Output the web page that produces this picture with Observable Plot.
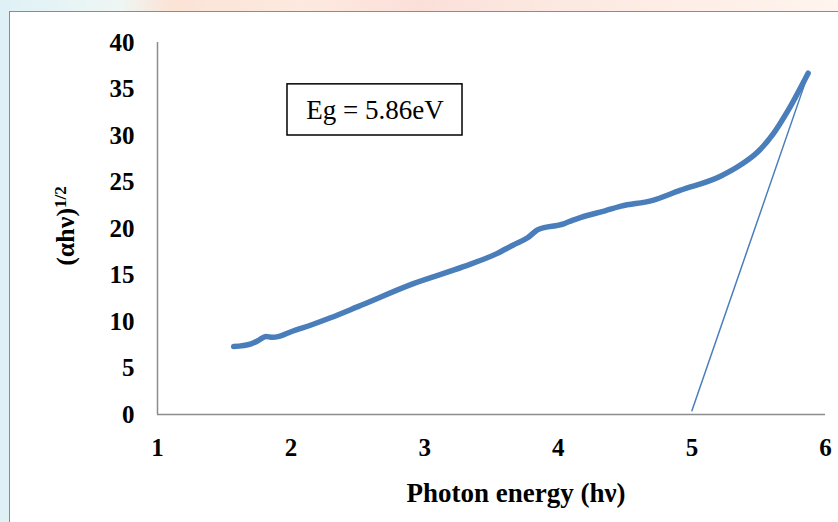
<!DOCTYPE html>
<html>
<head>
<meta charset="utf-8">
<script src="https://cdn.jsdelivr.net/npm/d3@7"></script>
<script src="https://cdn.jsdelivr.net/npm/@observablehq/plot@0.6"></script>
<style>
  html, body { margin: 0; padding: 0; width: 838px; height: 522px; overflow: hidden;
    background: linear-gradient(90deg, #dff1f6 0px, #eef6f4 120px, #fbe3d6 170px, #fde9df 300px, #fbe0da 420px, #fce9e1 560px, #fff4ee 838px); }
  #frame { position: absolute; left: 9px; top: 11px; width: 840px; height: 520px;
    background: white; border-left: 1.5px solid #8c8c8c; border-top: 1.5px solid #8c8c8c; }
  #chart { position: absolute; left: 0; top: 0; }
</style>
</head>
<body>
<div id="frame"></div>
<div id="chart"></div>
<script>
const photonEnergy = [1.57, 1.70, 1.76, 1.81, 1.86, 1.91, 2.00, 2.145, 2.295, 2.50, 2.92, 3.29, 3.54, 3.66, 3.77, 3.85, 4.04, 4.11, 4.17, 4.35, 4.47, 4.70, 4.91, 5.21, 5.36, 5.49, 5.61, 5.72, 5.87];
const alphaHv    = [7.3, 7.6, 8.0, 8.4, 8.3, 8.4, 8.9, 9.6, 10.4, 11.6, 14.1, 15.9, 17.3, 18.2, 19.0, 19.9, 20.5, 20.9, 21.2, 21.9, 22.4, 23.0, 24.1, 25.6, 26.8, 28.2, 30.2, 32.7, 36.7];
const tangentX = [5.0, 5.87];
const tangentY = [0.4, 36.6];
const xTicks = [1, 2, 3, 4, 5, 6];
const yTicks = [0, 5, 10, 15, 20, 25, 30, 35, 40];
const annotationText = "Eg = 5.86eV";

const curve = photonEnergy.map((x, i) => ({x, y: alphaHv[i]}));
const tangent = tangentX.map((x, i) => ({x, y: tangentY[i]}));

const blue = "#4a7ebb";
const font = "'Liberation Serif', 'Times New Roman', serif";

const plot = Plot.plot({
  width: 838,
  height: 522,
  marginLeft: 157,
  marginRight: 13,
  marginTop: 42,
  marginBottom: 108,
  style: {background: "transparent", fontFamily: font, fontWeight: "bold", fontSize: "26px", color: "#000"},
  x: {domain: [1, 6]},
  y: {domain: [0, 40]},
  marks: [
    Plot.axisX({ticks: xTicks, tickFormat: "d", tickSize: 0, tickPadding: 24, label: null}),
    Plot.axisY({ticks: yTicks, tickFormat: "d", tickSize: 0, tickPadding: 23, label: null}),
    Plot.ruleY([0], {stroke: "#8c8c8c", strokeWidth: 1.5}),
    Plot.ruleX([1], {stroke: "#8c8c8c", strokeWidth: 1.5}),
    Plot.rect([annotationText], {x1: 1.973, x2: 3.283, y1: 30.0, y2: 35.5, fill: "white", stroke: "black", strokeWidth: 1.5}),
    Plot.text([annotationText], {x: 2.628, y: 32.75, text: d => d, fill: "black"}),
    Plot.line(tangent, {x: "x", y: "y", stroke: blue, strokeWidth: 1.5}),
    Plot.line(curve, {x: "x", y: "y", stroke: blue, strokeWidth: 5.5, curve: "monotone-x", strokeLinecap: "round", strokeLinejoin: "round"})
  ]
});
document.getElementById("chart").appendChild(plot);

const svg = d3.select(plot);
svg.selectAll("g[aria-label='x-axis tick label'] text, g[aria-label='y-axis tick label'] text")
  .style("font-size", "25px").style("font-weight", "bold");
svg.selectAll("g[aria-label='text'] text")
  .style("font-size", "27px").style("font-weight", "normal");
// x-axis title
svg.append("text")
  .attr("x", 516).attr("y", 502)
  .attr("text-anchor", "middle")
  .style("font-family", font).style("font-weight", "bold").style("font-size", "27px")
  .text("Photon energy (hν)");
// y-axis title with superscript
const yt = svg.append("text")
  .attr("transform", "translate(74,226) rotate(-90)")
  .attr("text-anchor", "middle")
  .style("font-family", font).style("font-weight", "bold").style("font-size", "26px");
yt.append("tspan").text("(αhν)");
yt.append("tspan").attr("dy", "-0.45em").style("font-size", "17px").text("1/2");
</script>
</body>
</html>
